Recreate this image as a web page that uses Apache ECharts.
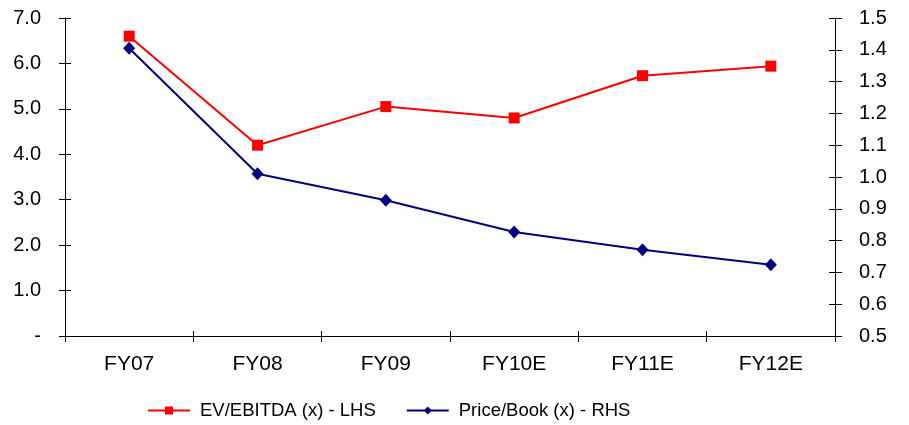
<!DOCTYPE html>
<html>
<head>
<meta charset="utf-8">
<script src="https://cdn.jsdelivr.net/npm/echarts@6/dist/echarts.min.js"></script>
<style>
  html, body { margin: 0; padding: 0; background: #fff; }
  #chart { width: 909px; height: 425px; }
</style>
</head>
<body>
<div id="chart"></div>
<script>
// Fiscal years (E = estimate)
const categories = ['FY07', 'FY08', 'FY09', 'FY10E', 'FY11E', 'FY12E'];
// EV/EBITDA multiple, left-hand scale
const evEbitda = [6.6, 4.2, 5.05, 4.8, 5.73, 5.94];
// Price/Book multiple, right-hand scale
const priceBook = [1.405, 1.01, 0.927, 0.827, 0.771, 0.724];
// Axis tick labels
const leftTicks = { min: 0, max: 7, step: 1 };
const rightTicks = { min: 0.5, max: 1.5, step: 0.1 };

const FONT = 'Liberation Sans, Arial, sans-serif';
const axisLine = { show: true, lineStyle: { color: '#000', width: 1 } };
const tickStyle = { color: '#000', width: 1 };

const chart = echarts.init(document.getElementById('chart'));
chart.setOption({
  animation: false,
  backgroundColor: '#fff',
  grid: { left: 65, right: 74, top: 18, bottom: 89, containLabel: false },
  legend: {
    bottom: 0,
    left: 142,
    itemGap: 30,
    itemWidth: 42,
    itemHeight: 10,
    textStyle: { fontFamily: FONT, fontSize: 18.5, color: '#000', padding: [0, 0, 0, 5] },
    data: ['EV/EBITDA (x) - LHS', 'Price/Book (x) - RHS']
  },
  xAxis: [
    {
      type: 'category',
      data: categories,
      boundaryGap: true,
      axisLine: axisLine,
      axisTick: { show: true, interval: 0, length: 6, lineStyle: tickStyle },
      axisLabel: { margin: 18, fontFamily: FONT, fontSize: 21, color: '#000' },
      splitLine: { show: false }
    },
    {
      // inward half of the crossing ticks
      type: 'category',
      data: categories,
      position: 'bottom',
      boundaryGap: true,
      axisLine: { show: false },
      axisTick: { show: true, inside: true, interval: 0, length: 5, lineStyle: tickStyle },
      axisLabel: { show: false },
      splitLine: { show: false }
    }
  ],
  yAxis: [
    {
      type: 'value',
      position: 'left',
      min: leftTicks.min, max: leftTicks.max, interval: leftTicks.step,
      axisLine: axisLine,
      axisTick: { show: true, length: 6, lineStyle: tickStyle },
      axisLabel: {
        margin: 24, fontFamily: FONT, fontSize: 20, color: '#000',
        formatter: v => v === 0 ? '-' : v.toFixed(1)
      },
      splitLine: { show: false }
    },
    {
      type: 'value',
      position: 'right',
      min: rightTicks.min, max: rightTicks.max, interval: rightTicks.step,
      axisLine: axisLine,
      axisTick: { show: true, length: 7, lineStyle: tickStyle },
      axisLabel: {
        margin: 24, fontFamily: FONT, fontSize: 20, color: '#000',
        formatter: v => v.toFixed(1)
      },
      splitLine: { show: false }
    },
    {
      // inward half of the left crossing ticks
      type: 'value',
      position: 'left',
      min: leftTicks.min, max: leftTicks.max, interval: leftTicks.step,
      axisLine: { show: false },
      axisTick: { show: true, inside: true, length: 6, lineStyle: tickStyle },
      axisLabel: { show: false },
      splitLine: { show: false }
    },
    {
      // inward half of the right crossing ticks
      type: 'value',
      position: 'right',
      min: rightTicks.min, max: rightTicks.max, interval: rightTicks.step,
      axisLine: { show: false },
      axisTick: { show: true, inside: true, length: 6, lineStyle: tickStyle },
      axisLabel: { show: false },
      splitLine: { show: false }
    }
  ],
  series: [
    {
      name: 'EV/EBITDA (x) - LHS',
      type: 'line',
      xAxisIndex: 0,
      yAxisIndex: 0,
      data: evEbitda,
      symbol: 'rect',
      symbolSize: 11,
      showAllSymbol: true,
      itemStyle: { color: '#ff0000' },
      lineStyle: { color: '#ff0000', width: 2 }
    },
    {
      name: 'Price/Book (x) - RHS',
      type: 'line',
      xAxisIndex: 0,
      yAxisIndex: 1,
      data: priceBook,
      symbol: 'diamond',
      symbolSize: [12, 13],
      showAllSymbol: true,
      itemStyle: { color: '#000080' },
      lineStyle: { color: '#000080', width: 2 }
    }
  ]
});
</script>
</body>
</html>
